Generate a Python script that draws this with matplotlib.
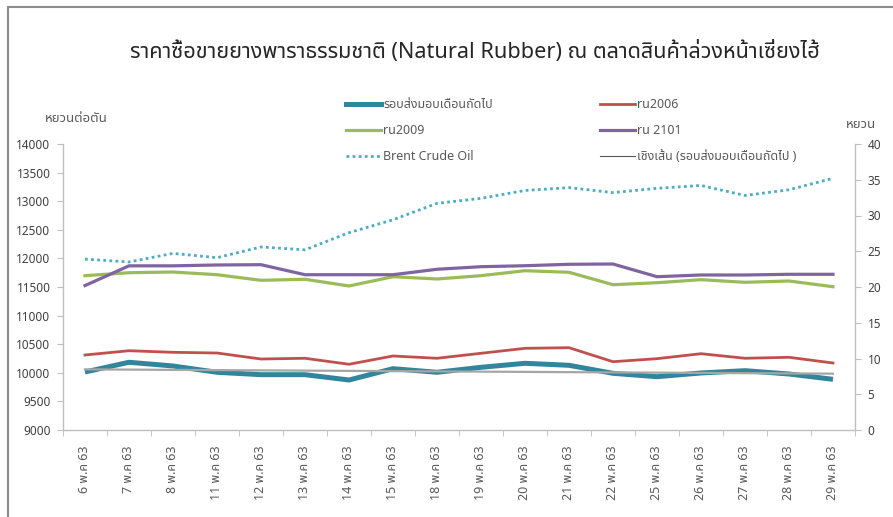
import numpy as np
import matplotlib
matplotlib.use('Agg')
import matplotlib.pyplot as plt
from matplotlib import font_manager
from matplotlib.lines import Line2D
from fontTools.ttLib import TTFont

# dates (May 2020 / 2563)
dates = ['6 พ.ค 63', '7 พ.ค 63', '8 พ.ค 63', '11 พ.ค 63', '12 พ.ค 63', '13 พ.ค 63',
         '14 พ.ค 63', '15 พ.ค 63', '18 พ.ค 63', '19 พ.ค 63', '20 พ.ค 63', '21 พ.ค 63',
         '22 พ.ค 63', '25 พ.ค 63', '26 พ.ค 63', '27 พ.ค 63', '28 พ.ค 63', '29 พ.ค 63']

front_month = [10014, 10184, 10119, 10009, 9967, 9967, 9874, 10072, 10009,
               10096, 10166, 10131, 9991, 9932, 9997, 10037, 9979, 9886]
ru2006 = [10311, 10386, 10358, 10346, 10241, 10254, 10149, 10294, 10254,
          10341, 10428, 10439, 10194, 10247, 10334, 10254, 10271, 10171]
ru2009 = [11698, 11750, 11762, 11715, 11617, 11635, 11518, 11680, 11640,
          11698, 11785, 11757, 11540, 11575, 11628, 11582, 11605, 11505]
ru2101 = [11525, 11870, 11870, 11885, 11890, 11715, 11715, 11715, 11810,
          11855, 11872, 11897, 11902, 11680, 11710, 11710, 11722, 11722]
brent = [23.9, 23.5, 24.7, 24.1, 25.6, 25.2, 27.6, 29.4, 31.7,
         32.4, 33.5, 33.9, 33.2, 33.8, 34.2, 32.8, 33.6, 35.2]
trend_ends = [10060, 9985]

title = 'ราคาซื้อขายยางพาราธรรมชาติ (Natural Rubber) ณ ตลาดสินค้าล่วงหน้าเซี่ยงไฮ้'
labels = ['รอบส่งมอบเดือนถัดไป', 'ru2006', 'ru2009', 'ru 2101', 'Brent Crude Oil',
          'เชิงเส้น (รอบส่งมอบเดือนถัดไป )']


def has_thai(path):
    try:
        f = TTFont(path, fontNumber=0, lazy=True)
        return 0x0E2A in f.getBestCmap()
    except Exception:
        return False


thai = None
for name in ['Noto Sans Thai', 'Noto Sans Thai UI', 'Loma', 'Garuda', 'Tlwg Typo', 'Norasi']:
    for fe in font_manager.fontManager.ttflist:
        if fe.name == name and has_thai(fe.fname):
            thai = name
            break
    if thai:
        break
if thai is None:
    for fe in font_manager.fontManager.ttflist:
        if has_thai(fe.fname):
            thai = fe.name
            break

fams = ['Noto Sans'] + ([thai] if thai else []) + ['DejaVu Sans']
plt.rcParams['font.family'] = fams

grey = '#595959'
fig = plt.figure(figsize=(8.93, 5.17), dpi=100)
ax = fig.add_axes([63 / 893, 1 - 430 / 517, (855 - 63) / 893, 286 / 517])
ax2 = ax.twinx()

x = np.arange(len(dates))
l1, = ax.plot(x, front_month, color='#31859C', lw=3.6, solid_capstyle='butt')
lt, = ax.plot([x[0], x[-1]], trend_ends, color='#A6A6A6', lw=1.6)
l2, = ax.plot(x, ru2006, color='#C0504D', lw=2.0)
l3, = ax.plot(x, ru2009, color='#9BBB59', lw=2.3)
l4, = ax.plot(x, ru2101, color='#8064A2', lw=2.3)
l5, = ax2.plot(x, brent, color='#4BACC6', lw=2.0, ls=(0, (1, 1.2)))

ax.set_xlim(-0.5, len(dates) - 0.5)
ax.set_ylim(9000, 14000)
ax.set_yticks(np.arange(9000, 14001, 500))
ax2.set_ylim(0, 40)
ax2.set_yticks(np.arange(0, 41, 5))

ax.set_xticks(x)
ax.set_xticklabels(dates, rotation=90, fontsize=9, color=grey)
ax.set_xticks(np.arange(-0.5, len(dates), 1), minor=True)
ax.tick_params(axis='x', which='major', length=0, pad=11)
ax.tick_params(axis='x', which='minor', length=4, color='#BFBFBF')
ax.tick_params(axis='y', length=4, color='#BFBFBF', labelsize=8.5, labelcolor='#404040', pad=5)
ax2.tick_params(axis='y', length=4, color='#BFBFBF', labelsize=8.5, labelcolor='#404040', pad=5)

for a in (ax, ax2):
    a.spines['top'].set_visible(False)
    for s in ('left', 'right', 'bottom'):
        a.spines[s].set_color('#BFBFBF')
        a.spines[s].set_linewidth(1.0)
ax.spines['right'].set_visible(False)
ax2.spines['left'].set_visible(False)
ax2.spines['bottom'].set_visible(False)

fig.text(475 / 893, 1 - 52 / 517, title, ha='center', va='center', fontsize=15.6,
         fontweight='bold', color='#262626')
fig.text(76 / 893, 1 - 118 / 517, 'หยวนต่อตัน', ha='center', va='center', fontsize=9.5, color=grey)
fig.text(861 / 893, 1 - 125 / 517, 'หยวน', ha='center', va='center', fontsize=9.5, color=grey)

hl = [Line2D([], [], color='#31859C', lw=3.6),
      Line2D([], [], color='#9BBB59', lw=2.3),
      Line2D([], [], color='#4BACC6', lw=2.0, ls=(0, (1, 1.2))),
      Line2D([], [], color='#C0504D', lw=2.0),
      Line2D([], [], color='#8064A2', lw=2.3),
      Line2D([], [], color='#595959', lw=0.8)]
ll = [labels[0], labels[2], labels[4], labels[1], labels[3], labels[5]]
fig.legend(hl, ll, ncol=2, loc='upper left', bbox_to_anchor=(335 / 893, 1 - 87 / 517),
           frameon=False, fontsize=9, handlelength=2.8, handletextpad=0.15,
           labelspacing=1.05, columnspacing=8.6, labelcolor=grey)

# top/left frame line
fig.add_artist(Line2D([8 / 893, 8 / 893], [0, 1 - 7 / 517], color='#8C8C8C', lw=1.5,
                      transform=fig.transFigure))
fig.add_artist(Line2D([8 / 893, 1], [1 - 7 / 517, 1 - 7 / 517], color='#8C8C8C', lw=1.5,
                      transform=fig.transFigure))

fig.savefig('out.png', dpi=100)
